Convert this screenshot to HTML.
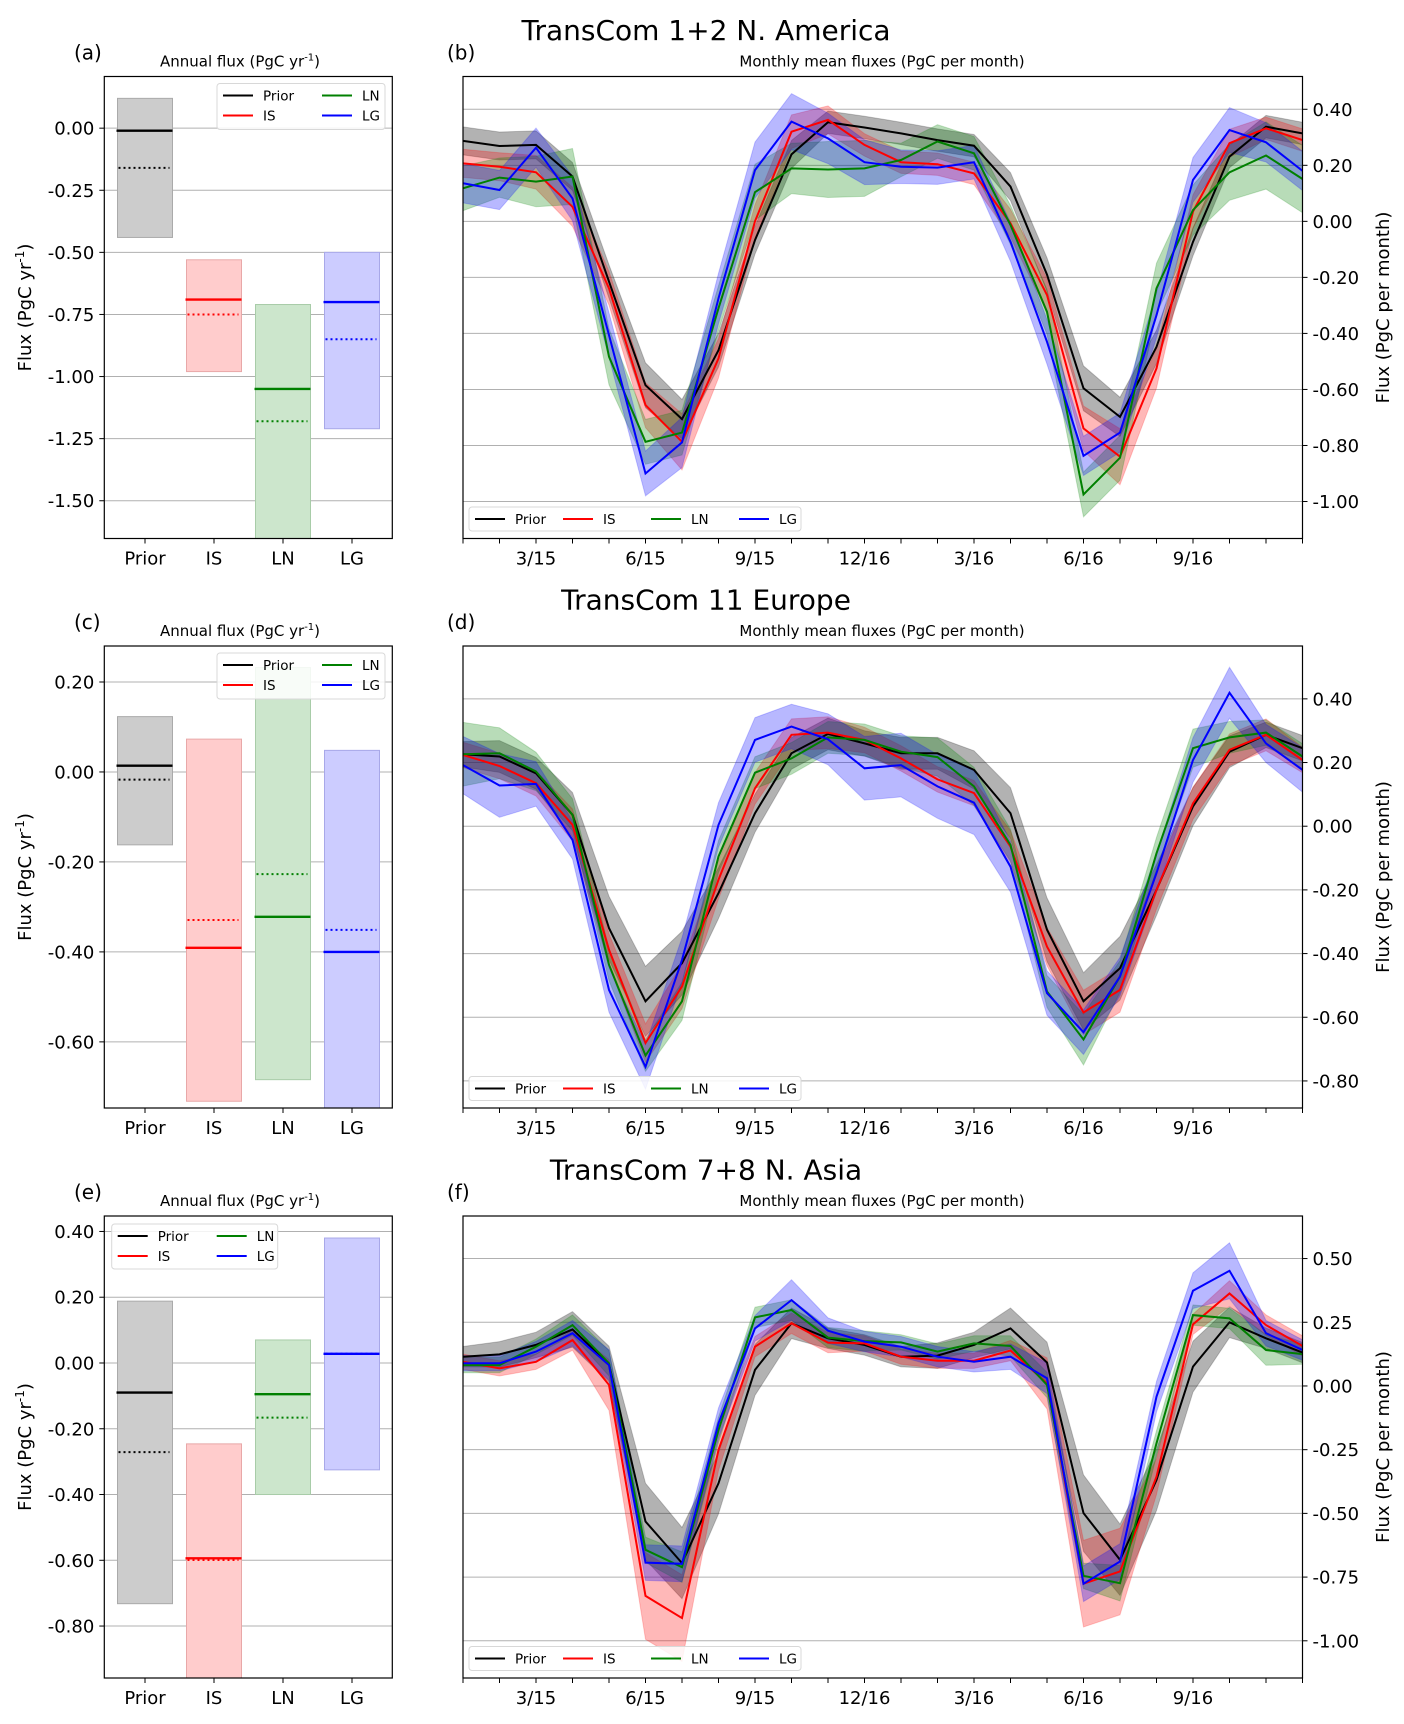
<!DOCTYPE html>
<html><head><meta charset="utf-8"><title>TransCom flux panels</title>
<style>
html,body{margin:0;padding:0;background:#fff;}
svg{display:block;font-family:"DejaVu Sans","Liberation Sans",sans-serif;}
</style></head>
<body>
<svg id="fig" xmlns="http://www.w3.org/2000/svg" width="1404" height="1724" viewBox="0 0 1404 1724"></svg>
<script>
// ---------- bar-panel data (annual flux) ----------
const barCategories = ['Prior','IS','LN','LG'];
const naBoxHi   = [0.12, -0.53, -0.71, -0.50];
const naBoxLo   = [-0.44, -0.98, -1.70, -1.21];
const naSolid   = [-0.01, -0.69, -1.05, -0.70];
const naDotted  = [-0.16, -0.75, -1.18, -0.85];
const naBarTicks = [0.00, -0.25, -0.50, -0.75, -1.00, -1.25, -1.50];

const euBoxHi   = [0.123, 0.073, 0.232, 0.048];
const euBoxLo   = [-0.162, -0.732, -0.684, -0.80];
const euSolid   = [0.014, -0.391, -0.322, -0.400];
const euDotted  = [-0.017, -0.329, -0.227, -0.351];
const euBarTicks = [0.20, 0.00, -0.20, -0.40, -0.60];

const asBoxHi   = [0.188, -0.246, 0.070, 0.380];
const asBoxLo   = [-0.732, -1.00, -0.400, -0.325];
const asSolid   = [-0.090, -0.594, -0.095, 0.028];
const asDotted  = [-0.271, -0.599, -0.166, 0.028];
const asBarTicks = [0.40, 0.20, 0.00, -0.20, -0.40, -0.60, -0.80];

// ---------- monthly data ----------
const monthTickIndex = [2,5,8,11,14,17,20];
const monthTickLabels = ['3/15','6/15','9/15','12/16','3/16','6/16','9/16'];

const naPrior = [0.287,0.269,0.273,0.16,-0.215,-0.585,-0.706,-0.46,-0.067,0.239,0.354,0.335,0.314,0.29,0.27,0.124,-0.19,-0.596,-0.698,-0.448,-0.073,0.231,0.338,0.314];
const naIS    = [0.207,0.195,0.175,0.052,-0.239,-0.656,-0.787,-0.489,0.0,0.32,0.362,0.273,0.211,0.204,0.171,-0.007,-0.263,-0.739,-0.84,-0.525,0.035,0.279,0.332,0.29];
const naLN    = [0.118,0.156,0.142,0.16,-0.483,-0.787,-0.754,-0.31,0.104,0.189,0.185,0.189,0.219,0.285,0.243,-0.013,-0.323,-0.975,-0.844,-0.239,0.04,0.175,0.235,0.151];
const naLG    = [0.136,0.112,0.263,0.082,-0.406,-0.9,-0.789,-0.275,0.183,0.356,0.296,0.211,0.195,0.192,0.211,-0.073,-0.43,-0.837,-0.754,-0.335,0.148,0.326,0.282,0.18];
const naPriorSpread = [0.05,0.05,0.05,0.05,0.06,0.08,0.07,0.06,0.05,0.05,0.04,0.04,0.04,0.04,0.04,0.05,0.06,0.08,0.07,0.06,0.05,0.04,0.04,0.04];
const naISSpread    = [0.05,0.05,0.06,0.07,0.06,0.08,0.1,0.07,0.06,0.06,0.05,0.04,0.04,0.04,0.04,0.05,0.06,0.08,0.1,0.07,0.06,0.05,0.04,0.04];
const naLNSpread    = [0.08,0.07,0.09,0.1,0.1,0.08,0.08,0.08,0.1,0.09,0.1,0.1,0.06,0.06,0.06,0.07,0.08,0.08,0.08,0.09,0.09,0.1,0.12,0.12];
const naLGSpread    = [0.07,0.07,0.07,0.08,0.08,0.08,0.09,0.09,0.1,0.1,0.09,0.08,0.06,0.06,0.06,0.07,0.08,0.07,0.07,0.08,0.08,0.08,0.07,0.07];
const naTicks = [0.40,0.20,0.00,-0.20,-0.40,-0.60,-0.80,-1.00];

const euPrior = [0.226,0.219,0.166,0.036,-0.32,-0.55,-0.43,-0.21,0.041,0.229,0.29,0.26,0.229,0.229,0.177,0.041,-0.325,-0.55,-0.446,-0.2,0.062,0.234,0.287,0.245];
const euIS    = [0.224,0.189,0.135,0.004,-0.388,-0.681,-0.503,-0.168,0.119,0.287,0.294,0.271,0.213,0.147,0.104,-0.064,-0.378,-0.585,-0.514,-0.2,0.072,0.24,0.287,0.208];
const euLN    = [0.226,0.229,0.172,0.036,-0.435,-0.72,-0.55,-0.095,0.168,0.213,0.279,0.271,0.234,0.217,0.125,-0.059,-0.519,-0.67,-0.472,-0.085,0.245,0.279,0.294,0.219];
const euLG    = [0.192,0.128,0.133,-0.043,-0.514,-0.756,-0.42,0.004,0.271,0.313,0.273,0.182,0.192,0.125,0.074,-0.127,-0.524,-0.647,-0.472,-0.147,0.208,0.419,0.26,0.177];
const euPriorSpread = [0.04,0.05,0.05,0.07,0.1,0.11,0.1,0.08,0.06,0.05,0.05,0.04,0.05,0.05,0.06,0.08,0.1,0.09,0.1,0.08,0.06,0.05,0.04,0.04];
const euISSpread    = [0.04,0.04,0.04,0.05,0.05,0.06,0.07,0.06,0.05,0.05,0.05,0.04,0.04,0.04,0.04,0.05,0.06,0.07,0.07,0.06,0.05,0.05,0.05,0.04];
const euLNSpread    = [0.1,0.08,0.06,0.05,0.05,0.05,0.06,0.05,0.05,0.05,0.05,0.05,0.05,0.06,0.06,0.05,0.05,0.08,0.05,0.05,0.06,0.05,0.04,0.04];
const euLGSpread    = [0.09,0.1,0.07,0.06,0.07,0.07,0.07,0.07,0.07,0.07,0.08,0.1,0.1,0.1,0.1,0.08,0.07,0.07,0.06,0.06,0.07,0.08,0.06,0.07];
const euTicks = [0.40,0.20,0.00,-0.20,-0.40,-0.60,-0.80];

const asPrior = [0.115,0.124,0.161,0.222,0.086,-0.532,-0.695,-0.382,0.063,0.246,0.187,0.161,0.115,0.119,0.161,0.226,0.092,-0.499,-0.682,-0.369,0.076,0.25,0.187,0.131];
const asIS    = [0.095,0.069,0.095,0.18,0.004,-0.824,-0.911,-0.251,0.154,0.246,0.17,0.167,0.115,0.099,0.099,0.139,0.01,-0.776,-0.728,-0.356,0.242,0.363,0.239,0.157];
const asLN    = [0.082,0.082,0.154,0.239,0.089,-0.643,-0.711,-0.173,0.269,0.298,0.19,0.176,0.171,0.135,0.167,0.157,0.004,-0.745,-0.774,-0.225,0.278,0.265,0.141,0.125];
const asLG    = [0.089,0.089,0.135,0.207,0.082,-0.693,-0.698,-0.146,0.226,0.337,0.217,0.174,0.154,0.115,0.095,0.115,0.03,-0.776,-0.689,-0.042,0.374,0.452,0.207,0.141];
const asPriorSpread = [0.04,0.05,0.05,0.07,0.07,0.15,0.14,0.12,0.1,0.06,0.04,0.04,0.04,0.05,0.05,0.08,0.08,0.15,0.14,0.12,0.1,0.06,0.04,0.04];
const asISSpread    = [0.03,0.03,0.03,0.04,0.1,0.17,0.17,0.08,0.04,0.04,0.04,0.03,0.03,0.03,0.03,0.04,0.1,0.17,0.17,0.07,0.04,0.05,0.04,0.04];
const asLNSpread    = [0.03,0.03,0.03,0.04,0.05,0.05,0.06,0.05,0.04,0.04,0.04,0.04,0.03,0.03,0.03,0.04,0.05,0.05,0.07,0.05,0.04,0.04,0.06,0.04];
const asLGSpread    = [0.03,0.03,0.04,0.05,0.06,0.07,0.07,0.06,0.05,0.08,0.05,0.04,0.04,0.04,0.04,0.05,0.06,0.07,0.07,0.06,0.07,0.11,0.05,0.04];
const asTicks = [0.50,0.25,0.00,-0.25,-0.50,-0.75,-1.00];

// ---------- rendering ----------
const NS = 'http://www.w3.org/2000/svg';
const fig = document.getElementById('fig');
const COLORS = ['#000000','#ff0000','#008000','#0000ff'];
const BARFILL = ['#cccccc','#ffcccc','#cce6cc','#ccccff'];
const BAREDGE = ['#aaaaaa','#e8a8a8','#a8cca8','#a8a8e8'];
function mk(tag, attrs, parent){
  const e = document.createElementNS(NS, tag);
  for (const k in attrs) e.setAttribute(k, attrs[k]);
  (parent||fig).appendChild(e);
  return e;
}
function txt(s, attrs, parent){ const t = mk('text', attrs, parent); t.textContent = s; return t; }

function fmt(v){ const s = Math.abs(v).toFixed(2); return (v < -1e-9 ? '-' : '') + s; }

function legend(g, x, y, w, h, twoCol){
  const box = mk('rect',{x:x,y:y,width:w,height:h,rx:3,fill:'#fff','fill-opacity':0.85,stroke:'#d8d8d8'}, g);
  
  
  barCategories.forEach((c,k)=>{
    let lx, ly;
    if (twoCol){ lx = x + 6 + (k>=2?99:0); ly = y + 12 + (k%2)*20; }
    else { lx = x + 6 + k*88; ly = y + h/2; }
    const ent = mk('g',{},g);
    
    
    mk('line',{x1:lx,y1:ly,x2:lx+30,y2:ly,stroke:COLORS[k],'stroke-width':2}, ent);
    txt(c,{x:lx+40,y:ly+5,'font-size':13.5,fill:'#000'}, ent);
  });
}

function barPanel(id, oy, label, yMin, yMax, ticks, hi, lo, solid, dotted, legPos){
  const L=104.3, R=392.3, T=76.5+oy, B=538.5+oy;
  const g = mk('g',{});
  
  
  const y = v => T + (yMax - v)/(yMax - yMin)*(B - T);
  const xCat = k => 145 + 69*k;
  const clip = mk('clipPath',{id:'clip'+id}, g);
  mk('rect',{x:L,y:T,width:R-L,height:B-T}, clip);
  ticks.forEach(v=>{
    const gl = mk('line',{x1:L,y1:y(v),x2:R,y2:y(v),stroke:'#b0b0b0','stroke-width':1}, g);
    
    
    mk('line',{x1:L-5,y1:y(v),x2:L,y2:y(v),stroke:'#000','stroke-width':1}, g);
    const t = txt(fmt(v),{x:L-10,y:y(v)+6.5,'font-size':18,'text-anchor':'end'}, g);
    
    
  });
  const cg = mk('g',{'clip-path':'url(#clip'+id+')'}, g);
  barCategories.forEach((c,k)=>{
    const x0 = xCat(k) - 27.5;
    const r = mk('rect',{x:x0,y:y(hi[k]),width:55,height:y(lo[k])-y(hi[k]),fill:BARFILL[k],stroke:BAREDGE[k],'stroke-width':1}, cg);
    
    
    const d = mk('line',{x1:x0+1,y1:y(dotted[k]),x2:x0+52,y2:y(dotted[k]),stroke:COLORS[k],'stroke-width':2,'stroke-dasharray':'2,3'}, cg);
    
    
    const s = mk('line',{x1:x0-1,y1:y(solid[k]),x2:x0+55,y2:y(solid[k]),stroke:COLORS[k],'stroke-width':2.4}, cg);
    
    
  });
  barCategories.forEach((c,k)=>{
    mk('line',{x1:xCat(k),y1:B,x2:xCat(k),y2:B+5,stroke:'#000'}, g);
    const t = txt(c,{x:xCat(k),y:B+26,'font-size':18,'text-anchor':'middle'}, g);
    
    
  });
  mk('rect',{x:L,y:T,width:R-L,height:B-T,fill:'none',stroke:'#000','stroke-width':1.2}, g);
  if (legPos==='right') legend(g, 217, T+7, 168, 46, true);
  else legend(g, 111.7, T+8, 166, 45, true);
  const pl = txt(label,{x:74,y:T-17,'font-size':20}, g);
  
  
  const st = mk('text',{x:240,y:T-10,'font-size':15,'text-anchor':'middle'}, g);
  st.innerHTML = 'Annual flux (PgC yr<tspan font-size="10" dy="-6">-1</tspan><tspan dy="6">)</tspan>';
  
  
  const yl = mk('text',{x:0,y:0,'font-size':18,'text-anchor':'middle',transform:'translate(31,'+((T+B)/2)+') rotate(-90)'}, g);
  yl.innerHTML = 'Flux (PgC yr<tspan font-size="12" dy="-7">-1</tspan><tspan dy="7">)</tspan>';
  
  
}

function monthPanel(id, oy, label, yMin, yMax, ticks, series, spreads){
  const L=463, R=1302.5, T=76.5+oy, B=538.5+oy;
  const g = mk('g',{});
  
  
  const y = v => T + (yMax - v)/(yMax - yMin)*(B - T);
  const x = i => L + i*(R-L)/23;
  const clip = mk('clipPath',{id:'mclip'+id}, g);
  mk('rect',{x:L,y:T,width:R-L,height:B-T}, clip);
  ticks.forEach(v=>{
    const gl = mk('line',{x1:L,y1:y(v),x2:R,y2:y(v),stroke:'#b0b0b0','stroke-width':1}, g);
    
    
    mk('line',{x1:R,y1:y(v),x2:R+5,y2:y(v),stroke:'#000','stroke-width':1}, g);
    const t = txt(fmt(v),{x:R+10,y:y(v)+6.5,'font-size':18}, g);
    
    
  });
  const cg = mk('g',{'clip-path':'url(#mclip'+id+')'}, g);
  series.forEach((s,k)=>{
    const sp = spreads[k];
    let d = s.map((v,i)=>(i?'L':'M')+x(i).toFixed(1)+','+y(v+sp[i]).toFixed(1)).join(' ');
    for (let i=s.length-1;i>=0;i--) d += ' L'+x(i).toFixed(1)+','+y(s[i]-sp[i]).toFixed(1);
    const p = mk('path',{d:d+' Z',fill:COLORS[k],'fill-opacity':k===0?0.3:0.28,stroke:COLORS[k],'stroke-opacity':0.2}, cg);
    
    
  });
  series.forEach((s,k)=>{
    const pts = s.map((v,i)=>x(i).toFixed(1)+','+y(v).toFixed(1)).join(' ');
    const pl = mk('polyline',{points:pts,fill:'none',stroke:COLORS[k],'stroke-width':2}, cg);
    
    
  });
  for (let i=0;i<24;i++) mk('line',{x1:x(i),y1:B,x2:x(i),y2:B+5,stroke:'#000'}, g);
  monthTickIndex.forEach((i,j)=>{
    const t = txt(monthTickLabels[j],{x:x(i),y:B+26,'font-size':18,'text-anchor':'middle'}, g);
    
    
  });
  mk('rect',{x:L,y:T,width:R-L,height:B-T,fill:'none',stroke:'#000','stroke-width':1.2}, g);
  legend(g, 469, B-31.5, 332, 24, false);
  const pl = txt(label,{x:447,y:T-17,'font-size':20}, g);
  
  
  const st = txt('Monthly mean fluxes (PgC per month)',{x:882,y:T-10,'font-size':15,'text-anchor':'middle'}, g);
  
  
  const yl = txt('Flux (PgC per month)',{x:0,y:0,'font-size':18,'text-anchor':'middle',transform:'translate(1389,'+((T+B)/2)+') rotate(-90)'}, g);
  
  
}

function rowTitle(s, oy){
  const t = txt(s,{x:706,y:40+oy,'font-size':28,'text-anchor':'middle'});
  
  
}

rowTitle('TransCom 1+2 N. America', 0);
barPanel('a', 0, '(a)', -1.652, 0.208, naBarTicks, naBoxHi, naBoxLo, naSolid, naDotted, 'right');
monthPanel('b', 0, '(b)', -1.132, 0.517, naTicks, [naPrior,naIS,naLN,naLG], [naPriorSpread,naISSpread,naLNSpread,naLGSpread]);

rowTitle('TransCom 11 Europe', 569.5);
barPanel('c', 569.5, '(c)', -0.747, 0.28, euBarTicks, euBoxHi, euBoxLo, euSolid, euDotted, 'right');
monthPanel('d', 569.5, '(d)', -0.885, 0.566, euTicks, [euPrior,euIS,euLN,euLG], [euPriorSpread,euISSpread,euLNSpread,euLGSpread]);

rowTitle('TransCom 7+8 N. Asia', 1139.5);
barPanel('e', 1139.5, '(e)', -0.958, 0.447, asBarTicks, asBoxHi, asBoxLo, asSolid, asDotted, 'left');
monthPanel('f', 1139.5, '(f)', -1.146, 0.667, asTicks, [asPrior,asIS,asLN,asLG], [asPriorSpread,asISSpread,asLNSpread,asLGSpread]);
</script>
</body></html>
